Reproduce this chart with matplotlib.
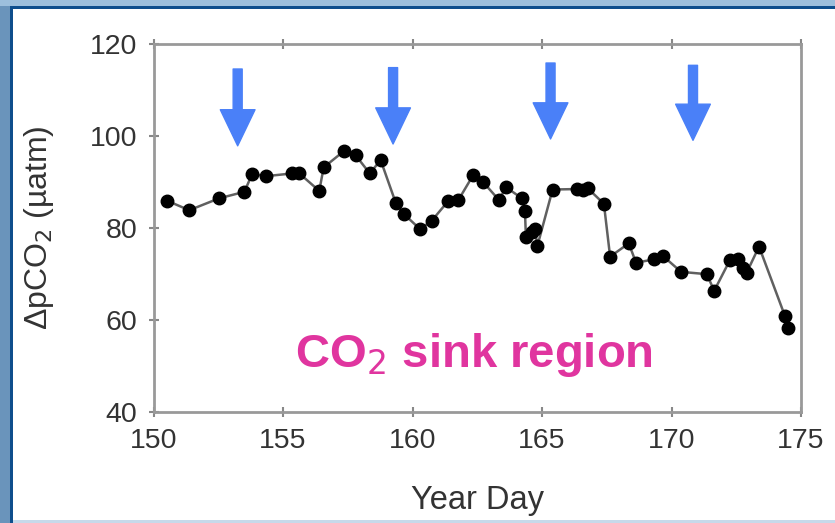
import matplotlib
matplotlib.use("Agg")
import matplotlib.pyplot as plt
from matplotlib.patches import Rectangle

plt.rcParams['font.family'] = ['Liberation Sans', 'DejaVu Sans']

day = [150.51, 151.38, 152.54, 153.51, 153.81, 154.34, 155.36, 155.63, 156.40, 156.57,
       157.36, 157.81, 158.35, 158.77, 159.36, 159.68, 160.29, 160.74, 161.38, 161.77,
       162.35, 162.73, 163.34, 163.61, 164.22, 164.34, 164.38, 164.61, 164.73, 164.82,
       165.41, 166.34, 166.57, 166.76, 167.39, 167.63, 168.35, 168.63, 169.32, 169.66,
       170.37, 171.36, 171.65, 172.26, 172.58, 172.77, 172.90, 173.38, 174.38, 174.51]
dpco2 = [85.9, 83.8, 86.4, 87.8, 91.7, 91.2, 91.8, 91.8, 88.0, 93.1,
         96.7, 95.7, 91.8, 94.7, 85.3, 82.9, 79.7, 81.5, 85.8, 86.0,
         91.5, 89.9, 86.0, 88.8, 86.4, 83.7, 78.0, 79.1, 79.7, 76.0,
         88.3, 88.4, 88.2, 88.6, 85.2, 73.7, 76.6, 72.4, 73.1, 73.9,
         70.4, 69.9, 66.3, 73.0, 73.3, 71.2, 70.2, 75.9, 60.8, 58.3]

arrow_days = [153.25, 159.25, 165.33, 170.83]
arrow_tops = [114.5, 114.8, 115.8, 115.3]
arrow_tips = [97.8, 98.2, 99.3, 99.0]

xticks = [150, 155, 160, 165, 170, 175]
yticks = [40, 60, 80, 100, 120]

fig = plt.figure(figsize=(8.35, 5.23), dpi=100)
W, H = 835, 523
# border decoration
fig.patches.append(Rectangle((0, 0), 10 / W, 1, transform=fig.transFigure,
                             facecolor='#6a94bb', edgecolor='none', zorder=0))
fig.patches.append(Rectangle((0, 1 - 6 / H), 1, 6 / H, transform=fig.transFigure,
                             facecolor='#9dbfdc', edgecolor='none', zorder=0))
fig.patches.append(Rectangle((10 / W, 0), 3 / W, 1 - 6 / H, transform=fig.transFigure,
                             facecolor='#0e4e8c', edgecolor='none', zorder=1))
fig.patches.append(Rectangle((10 / W, 1 - 9 / H), 1, 3 / H, transform=fig.transFigure,
                             facecolor='#0e4e8c', edgecolor='none', zorder=1))
fig.patches.append(Rectangle((13 / W, 0), 1, 3 / H, transform=fig.transFigure,
                             facecolor='#c7d9ea', edgecolor='none', zorder=1))

ax = fig.add_axes([153.5 / W, 1 - 411.7 / H, 647.5 / W, 368 / H])
ax.plot(day, dpco2, '-', color='#606060', lw=1.8, marker='o', ms=9,
        mfc='black', mec='black', zorder=3)

for xd, yt, yb in zip(arrow_days, arrow_tops, arrow_tips):
    ax.annotate('', xy=(xd, yb), xytext=(xd, yt),
                arrowprops=dict(arrowstyle='simple,head_length=26,head_width=25,tail_width=6.5',
                                mutation_scale=1, color='#4a80f8', shrinkA=0, shrinkB=0))

ax.text(155.47, 49.7, 'CO$_2$ sink region', color='#e0359f', fontsize=34,
        fontweight='bold', ha='left', va='baseline')

ax.set_xlim(150, 175)
ax.set_ylim(40, 120)
ax.set_xticks(xticks)
ax.set_yticks(yticks)
ax.tick_params(direction='inout', length=7, width=1.5, color='#888888',
               labelsize=20.5, labelcolor='#333333', top=True, right=False, pad=8)
for s in ax.spines.values():
    s.set_color('#999999')
    s.set_linewidth(2)
ax.set_xlabel('Year Day', fontsize=23.5, color='#333333')
ax.set_ylabel('ΔpCO$_2$ (µatm)', fontsize=23, color='#333333')
ax.xaxis.set_label_coords(0.5, -0.2)
ax.yaxis.set_label_coords(-0.15, 0.5)

fig.savefig('out.png', dpi=100, facecolor='white')
